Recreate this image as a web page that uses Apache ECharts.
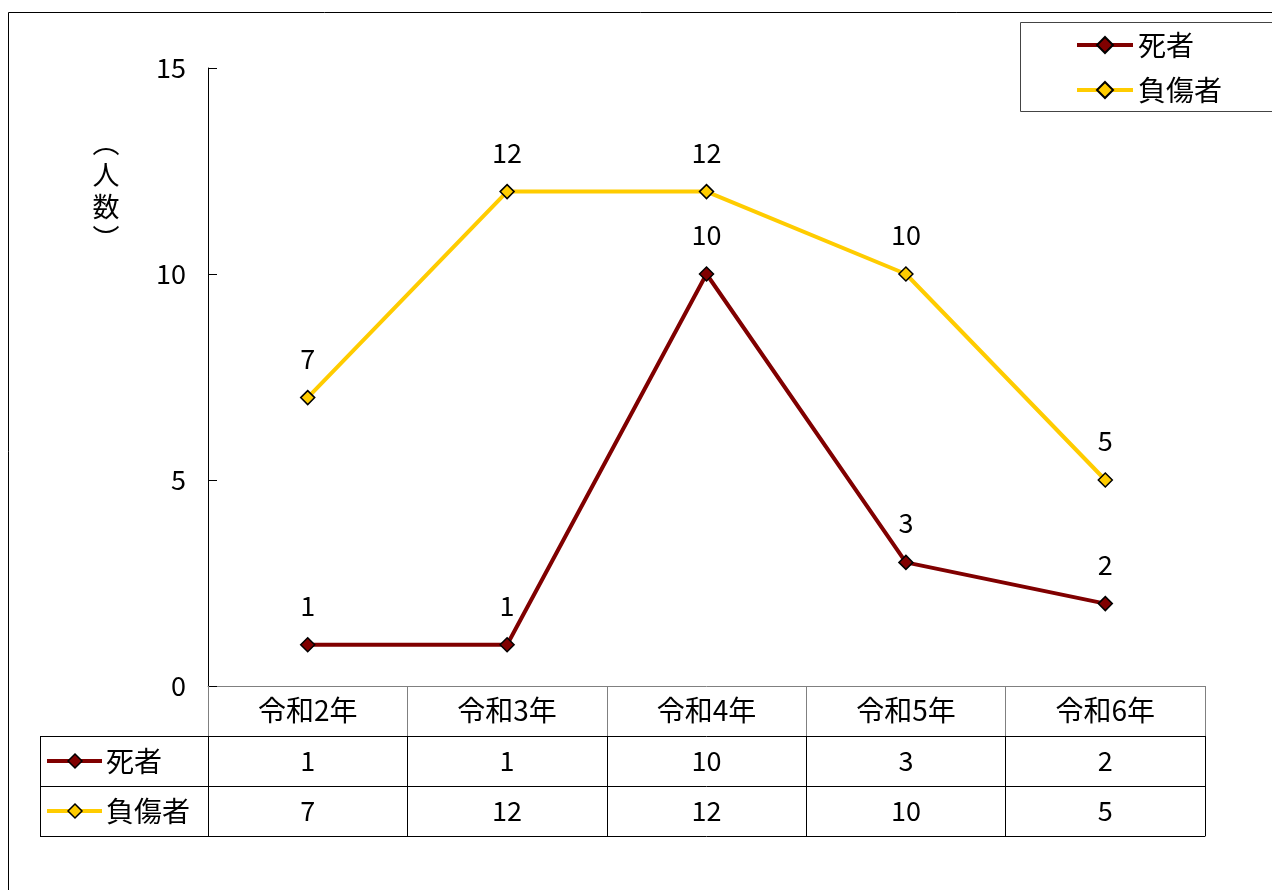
<!DOCTYPE html>
<html>
<head>
<meta charset="utf-8">
<script src="https://cdn.jsdelivr.net/npm/echarts@6/dist/echarts.min.js"></script>
<style>
html,body{margin:0;padding:0;background:#fff;}
#c{width:1272px;height:890px;}
</style>
</head>
<body>
<div id="c"></div>
<script>
const categories = ['令和2年','令和3年','令和4年','令和5年','令和6年'];
const deaths = [1, 1, 10, 3, 2];
const injured = [7, 12, 12, 10, 5];
const seriesNames = ['死者', '負傷者'];
const yTicks = [0, 5, 10, 15];

const FONT = '"Noto Sans CJK JP", "Noto Sans", sans-serif';
const RED = '#800000';
const GOLD = '#FFCC00';
const NUM = 27;
const CJK = 28;

const G = {left: 208, right: 67, top: 68, bottom: 204};
const W = 1272, H = 890;
const gx0 = G.left, gx1 = W - G.right, gy1 = H - G.bottom;
const rowH = 50;

function diamond(cx, cy, s, fill) {
  return {type: 'polygon', shape: {points: [[cx, cy - s/2],[cx + s/2, cy],[cx, cy + s/2],[cx - s/2, cy]]},
    style: {fill: fill, stroke: '#000', lineWidth: 1.5}, z: 10};
}
function legendCell(y, color, name) {
  return [
    {type: 'line', shape: {x1: 47, y1: y, x2: 102, y2: y}, style: {stroke: color, lineWidth: 4}, z: 9},
    diamond(75, y, 14, color),
    {type: 'text', x: 106, y: y, style: {text: name, font: CJK + 'px ' + FONT, fill: '#000', verticalAlign: 'middle', align: 'left'}, z: 10}
  ];
}

const graphics = [
  {type: 'rect', shape: {x: 8.5, y: 12.5, width: 1300, height: 900}, style: {fill: 'none', stroke: '#000', lineWidth: 1}, z: 0},
  {type: 'rect', shape: {x: 1020.5, y: 22.5, width: 300, height: 89}, style: {fill: '#fff', stroke: '#444', lineWidth: 1}, z: 1},
  {type: 'text', x: 106, y: 191, style: {text: '︵\n人\n数\n︶', font: '27px ' + FONT, lineHeight: 32, fill: '#000', align: 'center', verticalAlign: 'middle'}, z: 10},
  // left column of data table
  {type: 'line', shape: {x1: 40, y1: gy1 + rowH + 0.5, x2: gx0, y2: gy1 + rowH + 0.5}, style: {stroke: '#000', lineWidth: 1}},
  {type: 'line', shape: {x1: 40, y1: gy1 + 2*rowH + 0.5, x2: gx0, y2: gy1 + 2*rowH + 0.5}, style: {stroke: '#000', lineWidth: 1}},
  {type: 'line', shape: {x1: 40, y1: gy1 + 3*rowH + 0.5, x2: gx0, y2: gy1 + 3*rowH + 0.5}, style: {stroke: '#000', lineWidth: 1}},
  {type: 'line', shape: {x1: 40.5, y1: gy1 + rowH, x2: 40.5, y2: gy1 + 3*rowH}, style: {stroke: '#000', lineWidth: 1}},
  ...legendCell(gy1 + 1.5*rowH, RED, seriesNames[0]),
  ...legendCell(gy1 + 2.5*rowH, GOLD, seriesNames[1])
];

const baseX = {
  type: 'category', data: categories, position: 'bottom', boundaryGap: true,
  axisTick: {show: false}, splitLine: {show: false}
};
const cellLabel = {margin: 11, fontSize: NUM, fontFamily: FONT, color: '#000', interval: 0};

const option = {
  backgroundColor: '#fff',
  animation: false,
  grid: G,
  legend: {
    orient: 'vertical', left: 1070, top: 26, itemGap: 17,
    itemWidth: 56, itemHeight: 20,
    data: seriesNames,
    lineStyle: {width: 4},
    textStyle: {fontSize: CJK, fontFamily: FONT, color: '#000', lineHeight: 28}
  },
  xAxis: [
    Object.assign({}, baseX, {
      axisLine: {lineStyle: {color: '#808080', width: 1}},
      axisTick: {show: true, length: rowH, alignWithLabel: false, lineStyle: {color: '#808080', width: 1}},
      axisLabel: Object.assign({}, cellLabel, {fontSize: CJK, margin: 10})
    }),
    Object.assign({}, baseX, {
      offset: rowH,
      axisLine: {lineStyle: {color: '#000', width: 1}},
      axisTick: {show: true, length: rowH * 2, alignWithLabel: false, lineStyle: {color: '#000', width: 1}},
      axisLabel: Object.assign({}, cellLabel, {formatter: (v, i) => String(deaths[i])})
    }),
    Object.assign({}, baseX, {
      offset: rowH * 2,
      axisLine: {lineStyle: {color: '#000', width: 1}},
      axisLabel: Object.assign({}, cellLabel, {formatter: (v, i) => String(injured[i])})
    }),
    Object.assign({}, baseX, {
      offset: rowH * 3,
      axisLine: {lineStyle: {color: '#000', width: 1}},
      axisLabel: {show: false}
    })
  ],
  yAxis: {
    type: 'value', min: yTicks[0], max: yTicks[yTicks.length - 1], interval: 5,
    axisLine: {show: true, lineStyle: {color: '#000', width: 1}},
    axisTick: {show: true, inside: true, length: 9, lineStyle: {color: '#000'}},
    axisLabel: {fontSize: NUM, fontFamily: FONT, color: '#000', margin: 22},
    splitLine: {show: false}
  },
  series: [
    {
      name: seriesNames[0], type: 'line', data: deaths, xAxisIndex: 0,
      symbol: 'diamond', symbolSize: 14,
      lineStyle: {color: RED, width: 4},
      itemStyle: {color: RED, borderColor: '#000', borderWidth: 1.5},
      label: {show: true, position: 'top', distance: 18, fontSize: NUM, fontFamily: FONT, color: '#000'},
      z: 3
    },
    {
      name: seriesNames[1], type: 'line', data: injured, xAxisIndex: 0,
      symbol: 'diamond', symbolSize: 14,
      lineStyle: {color: GOLD, width: 4},
      itemStyle: {color: GOLD, borderColor: '#000', borderWidth: 1.5},
      label: {show: true, position: 'top', distance: 18, fontSize: NUM, fontFamily: FONT, color: '#000'},
      z: 2
    }
  ],
  graphic: graphics
};

const chart = echarts.init(document.getElementById('c'));
chart.setOption(option);
</script>
</body>
</html>
